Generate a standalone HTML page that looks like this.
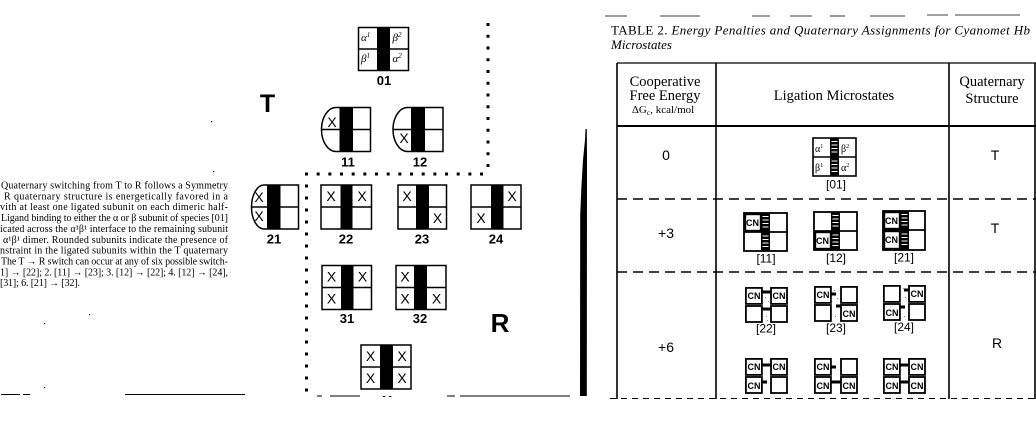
<!DOCTYPE html>
<html><head><meta charset="utf-8">
<style>
html,body{margin:0;padding:0;background:#fff;}
svg{display:block;}
</style></head>
<body>
<svg width="1036" height="435" viewBox="0 0 1036 435" xmlns="http://www.w3.org/2000/svg">
<defs>
<clipPath id="cb"><rect x="0" y="0" width="1036" height="397"/></clipPath>
</defs>
<rect width="1036" height="435" fill="#fff"/>

<!-- Left caption paragraph -->
<g font-family="Liberation Serif, serif" font-size="10" fill="#000">
<text x="1" y="188.5" textLength="227" lengthAdjust="spacing">Quaternary switching from T to R follows a Symmetry</text>
<text x="4" y="199.4" textLength="224" lengthAdjust="spacing">R quaternary structure is energetically favored in a</text>
<text x="0" y="210.2" textLength="228" lengthAdjust="spacing">vith at least one ligated subunit on each dimeric half-</text>
<text x="1" y="221.1" textLength="227" lengthAdjust="spacing">Ligand binding to either the α or β subunit of species [01]</text>
<text x="0" y="231.9" textLength="228" lengthAdjust="spacing">icated across the α¹β¹ interface to the remaining subunit</text>
<text x="3" y="242.8" textLength="225" lengthAdjust="spacing">α¹β¹ dimer. Rounded subunits indicate the presence of</text>
<text x="0" y="253.6" textLength="228" lengthAdjust="spacing">nstraint in the ligated subunits within the T quaternary</text>
<text x="1" y="264.5" textLength="227" lengthAdjust="spacing">The T → R switch can occur at any of six possible switch-</text>
<text x="0" y="275.3" textLength="228" lengthAdjust="spacing">1] → [22]; 2. [11] → [23]; 3. [12] → [22]; 4. [12] → [24],</text>
<text x="0" y="286.2" textLength="80" lengthAdjust="spacing">[31]; 6. [21] → [32].</text>
</g>
<!-- bottom-left fragments -->
<g stroke="#000" stroke-width="1">
<line x1="1" y1="394.5" x2="20" y2="394.5"/>
<line x1="23" y1="394.5" x2="30" y2="394.5"/>
<line x1="125" y1="394.5" x2="245" y2="394.5"/>
</g>
<rect x="44" y="387" width="1.2" height="1.2" fill="#000"/>
<rect x="89" y="314" width="1.2" height="1.2" fill="#000"/>
<rect x="44" y="323" width="1.2" height="1.2" fill="#000"/>
<rect x="211" y="121" width="1.2" height="1.2" fill="#000"/>
<rect x="213" y="171" width="1.2" height="1.2" fill="#000"/>

<!-- T and R letters -->
<text x="267.5" y="112" font-family="Liberation Sans, sans-serif" font-weight="bold" font-size="25" text-anchor="middle">T</text>
<text x="500" y="332" font-family="Liberation Sans, sans-serif" font-weight="bold" font-size="26" text-anchor="middle">R</text>

<!-- dotted boundary -->
<g stroke="#000" stroke-width="3" fill="none">
<line x1="488" y1="23" x2="488" y2="167" stroke-dasharray="3 8.75"/>
<line x1="305" y1="174" x2="484" y2="174" stroke-dasharray="3 8.67"/>
<line x1="306.5" y1="172.5" x2="306.5" y2="393" stroke-dasharray="3 9"/>
</g>

<!-- Box 01 -->
<g stroke="#000" stroke-width="1.5" fill="none">
<rect x="358.5" y="27.5" width="50" height="43" fill="#fff"/>
<line x1="358.5" y1="49" x2="408.5" y2="49"/>
</g>
<rect x="377" y="27.5" width="13" height="43" fill="#000"/>
<g font-family="Liberation Serif, serif" font-style="italic" font-size="11" fill="#000">
<text x="361" y="41">α<tspan font-size="7" dy="-4">1</tspan></text>
<text x="392.5" y="41">β<tspan font-size="7" dy="-4">2</tspan></text>
<text x="361" y="62">β<tspan font-size="7" dy="-4">1</tspan></text>
<text x="392.5" y="62">α<tspan font-size="7" dy="-4">2</tspan></text>
</g>

<!-- Box 11 -->
<g stroke="#000" stroke-width="1.5">
<path d="M370.5,107.5 H336 A14.5,22 0 0 0 321.5,129.5 A14.5,22 0 0 0 336,151.5 H370.5 Z" fill="#fff"/>
<line x1="321.5" y1="129.5" x2="370.5" y2="129.5"/>
</g>
<rect x="339.5" y="107.5" width="13.5" height="44" fill="#000"/>

<!-- Box 12 -->
<g stroke="#000" stroke-width="1.5">
<path d="M443,107.5 H407.5 A14.5,22 0 0 0 393,129.5 A14.5,22 0 0 0 407.5,151.5 H443 Z" fill="#fff"/>
<line x1="393" y1="129.5" x2="443" y2="129.5"/>
</g>
<rect x="411" y="107.5" width="14" height="44" fill="#000"/>

<!-- Box 21 -->
<g stroke="#000" stroke-width="1.5">
<path d="M298.5,185 H264 A12.5,22 0 0 0 251.5,207 A12.5,22 0 0 0 264,229 H298.5 Z" fill="#fff"/>
<line x1="251.5" y1="207" x2="298.5" y2="207"/>
</g>
<rect x="267" y="185" width="13.5" height="44" fill="#000"/>

<!-- square boxes -->
<g stroke="#000" stroke-width="1.5" fill="#fff">
<rect x="321" y="185" width="50.5" height="44"/>
<rect x="398" y="185" width="48.5" height="44"/>
<rect x="471" y="185" width="50" height="44"/>
<rect x="322" y="265.5" width="49.5" height="44"/>
<rect x="396" y="265.5" width="50" height="44"/>
<rect x="361" y="345" width="50" height="44"/>
</g>
<g stroke="#000" stroke-width="1.5">
<line x1="321" y1="207" x2="371.5" y2="207"/>
<line x1="398" y1="207" x2="446.5" y2="207"/>
<line x1="471" y1="207" x2="521" y2="207"/>
<line x1="322" y1="287.5" x2="371.5" y2="287.5"/>
<line x1="396" y1="287.5" x2="446" y2="287.5"/>
<line x1="361" y1="367" x2="411" y2="367"/>
</g>
<g fill="#000">
<rect x="340.5" y="185" width="12" height="44"/>
<rect x="416" y="185" width="13" height="44"/>
<rect x="491" y="185" width="12.5" height="44"/>
<rect x="341" y="265.5" width="12.5" height="44"/>
<rect x="414" y="265.5" width="13" height="44"/>
<rect x="380" y="345" width="13" height="44"/>
</g>

<!-- X marks -->
<g font-family="Liberation Sans, sans-serif" font-size="14" text-anchor="middle" fill="#000">
<text x="332" y="127">X</text>
<text x="404" y="143">X</text>
<text x="259" y="202">X</text>
<text x="259" y="221">X</text>
<text x="331" y="201">X</text>
<text x="362" y="201">X</text>
<text x="407" y="201">X</text>
<text x="437.5" y="223">X</text>
<text x="512" y="201">X</text>
<text x="481" y="223">X</text>
<text x="331.5" y="281.5">X</text>
<text x="362.5" y="281.5">X</text>
<text x="331.5" y="303.5">X</text>
<text x="405" y="281.5">X</text>
<text x="405" y="303.5">X</text>
<text x="436.5" y="303.5">X</text>
<text x="370.5" y="361">X</text>
<text x="402" y="361">X</text>
<text x="370.5" y="383">X</text>
<text x="402" y="383">X</text>
</g>

<!-- box labels -->
<g font-family="Liberation Sans, sans-serif" font-weight="bold" font-size="13" text-anchor="middle" fill="#000">
<text x="384" y="85">01</text>
<text x="348" y="166.5">11</text>
<text x="420" y="166.5">12</text>
<text x="274" y="243.5">21</text>
<text x="346" y="243.5">22</text>
<text x="422" y="243.5">23</text>
<text x="496" y="243.5">24</text>
<text x="347" y="323">31</text>
<text x="420" y="323">32</text>
<text x="386.5" y="405" clip-path="url(#cb)">41</text>
</g>

<!-- bottom line under diagram -->
<g stroke="#000" stroke-width="1">
<line x1="317" y1="396" x2="322" y2="396"/>
<line x1="330" y1="396" x2="360" y2="396"/>
<line x1="447" y1="396" x2="455" y2="396"/>
<line x1="460" y1="396" x2="570" y2="396"/>
</g>

<!-- thick vertical bar -->
<polygon points="585.5,129 586.8,129 587,160 586.8,396 580,396 580.2,215 581.5,185 583,160 585,140" fill="#000"/>

<!-- TABLE -->
<g stroke="#000" stroke-width="0.8">
<line x1="605" y1="16" x2="627" y2="16"/>
<line x1="660" y1="16" x2="700" y2="16"/>
<line x1="752" y1="16" x2="770" y2="16"/>
<line x1="790" y1="16" x2="812" y2="16"/>
<line x1="830" y1="16" x2="845" y2="16"/>
<line x1="870" y1="16" x2="905" y2="16"/>
<line x1="927" y1="15" x2="948" y2="15"/>
<line x1="955" y1="15" x2="1020" y2="15"/>
</g>
<text x="611" y="34.5" font-family="Liberation Serif, serif" font-size="13" fill="#000" textLength="419" lengthAdjust="spacing">TABLE 2. <tspan font-style="italic">Energy Penalties and Quaternary Assignments for Cyanomet Hb</tspan></text>
<text x="611" y="49" font-family="Liberation Serif, serif" font-size="13" font-style="italic" fill="#000">Microstates</text>

<g stroke="#000" fill="none">
<line x1="617" y1="63" x2="1036" y2="63" stroke-width="1.2"/>
<line x1="617" y1="63" x2="617" y2="399" stroke-width="1.6"/>
<line x1="716" y1="63" x2="716" y2="399" stroke-width="1.6"/>
<line x1="949" y1="63" x2="949" y2="399" stroke-width="1.6"/>
<line x1="1035" y1="63" x2="1035" y2="399" stroke-width="1.6"/>
<line x1="617" y1="126" x2="1036" y2="126" stroke-width="2"/>
<line x1="617" y1="199" x2="1036" y2="199" stroke-width="1.6" stroke-dasharray="10 6"/>
<line x1="617" y1="272" x2="1036" y2="272" stroke-width="1.6" stroke-dasharray="10 6"/>
<line x1="610" y1="398.5" x2="1036" y2="398.5" stroke-width="1" stroke-dasharray="6 5"/>
</g>

<g font-family="Liberation Serif, serif" font-size="14.5" fill="#000" text-anchor="middle">
<text x="665" y="86">Cooperative</text>
<text x="665" y="100">Free Energy</text>
<text x="663" y="113" font-size="11">ΔG<tspan font-size="7.5" dy="2">c</tspan><tspan dy="-2">, kcal/mol</tspan></text>
<text x="834" y="100">Ligation Microstates</text>
<text x="992" y="86">Quaternary</text>
<text x="992" y="103">Structure</text>
</g>

<g font-family="Liberation Sans, sans-serif" font-size="14" fill="#000" text-anchor="middle">
<text x="666" y="160">0</text>
<text x="995" y="160">T</text>
<text x="666" y="238">+3</text>
<text x="995" y="233">T</text>
<text x="666" y="352">+6</text>
<text x="997" y="348">R</text>
</g>

<!-- [01] icon -->
<g transform="translate(813,138)" font-family="Liberation Serif, serif" fill="#000">
<rect x="0" y="0" width="43" height="38" fill="#fff" stroke="#000" stroke-width="1.6"/>
<rect x="17" y="0" width="9" height="38" fill="#000"/>
<path d="M18.5 3.5h6M18.5 7h6M18.5 10.5h6M18.5 14h6M18.5 23h6M18.5 26.5h6M18.5 30h6M18.5 33.5h6" stroke="#fff" stroke-width="1"/>
<line x1="0" y1="19" x2="43" y2="19" stroke="#000" stroke-width="1.6"/>
<text x="2" y="14" font-size="10">α<tspan font-size="6" dy="-4">1</tspan></text>
<text x="28" y="14" font-size="10">β<tspan font-size="6" dy="-4">2</tspan></text>
<text x="2" y="33" font-size="10">β<tspan font-size="6" dy="-4">1</tspan></text>
<text x="28" y="33" font-size="10">α<tspan font-size="6" dy="-4">2</tspan></text>
</g>

<!-- T icons -->
<g font-family="Liberation Sans, sans-serif" font-weight="bold" font-size="9" text-anchor="middle" fill="#000">
<g transform="translate(744,213)">
<rect x="0" y="0" width="43" height="38" fill="#fff" stroke="#000" stroke-width="1.8"/>
<rect x="17" y="0" width="9" height="38" fill="#000"/>
<path d="M18.5 3.5h6M18.5 7h6M18.5 10.5h6M18.5 14h6M18.5 23h6M18.5 26.5h6M18.5 30h6M18.5 33.5h6" stroke="#fff" stroke-width="1"/>
<line x1="0" y1="19" x2="43" y2="19" stroke="#000" stroke-width="1.8"/>
<rect x="1" y="1" width="16" height="17" fill="none" stroke="#000" stroke-width="2.4"/>
<text x="8.5" y="13">CN</text>
</g>
<g transform="translate(814,212)">
<rect x="0" y="0" width="43" height="38" fill="#fff" stroke="#000" stroke-width="1.8"/>
<rect x="17" y="0" width="9" height="38" fill="#000"/>
<path d="M18.5 3.5h6M18.5 7h6M18.5 10.5h6M18.5 14h6M18.5 23h6M18.5 26.5h6M18.5 30h6M18.5 33.5h6" stroke="#fff" stroke-width="1"/>
<line x1="0" y1="19" x2="43" y2="19" stroke="#000" stroke-width="1.8"/>
<rect x="1" y="20" width="16" height="17" fill="none" stroke="#000" stroke-width="2.4"/>
<text x="8.5" y="32">CN</text>
</g>
<g transform="translate(883,211)">
<rect x="0" y="0" width="42" height="39" fill="#fff" stroke="#000" stroke-width="1.8"/>
<rect x="17" y="0" width="9" height="39" fill="#000"/>
<path d="M18.5 3.5h6M18.5 7h6M18.5 10.5h6M18.5 14h6M18.5 23h6M18.5 26.5h6M18.5 30h6M18.5 33.5h6" stroke="#fff" stroke-width="1"/>
<line x1="0" y1="19" x2="42" y2="19" stroke="#000" stroke-width="1.8"/>
<rect x="1" y="1" width="16" height="17" fill="none" stroke="#000" stroke-width="2.4"/>
<text x="8.5" y="13">CN</text>
<rect x="1" y="20" width="16" height="18" fill="none" stroke="#000" stroke-width="2.4"/>
<text x="8.5" y="32">CN</text>
</g>
</g>

<!-- R icons -->
<g font-family="Liberation Sans, sans-serif" font-weight="bold" font-size="9" text-anchor="middle" fill="#000" stroke-linecap="butt">
<!-- [22] -->
<g transform="translate(745,287)">
<g fill="#fff" stroke="#000" stroke-width="1.8">
<rect x="0.9" y="0.9" width="16" height="16"/><rect x="0.9" y="19" width="16" height="16"/>
<rect x="26" y="0.9" width="16" height="16"/><rect x="26" y="19" width="16" height="16"/>
</g>
<g fill="#888"><rect x="20" y="10" width="1" height="1"/><rect x="23" y="14" width="1" height="1"/><rect x="21" y="29" width="1" height="1"/><rect x="22" y="33" width="1" height="1"/></g>
<line x1="17" y1="5" x2="26" y2="5" stroke="#000" stroke-width="3"/>
<line x1="17" y1="22" x2="26" y2="22" stroke="#000" stroke-width="3"/>
<text x="9" y="12">CN</text><text x="34" y="12">CN</text>
</g>
<!-- [23] -->
<g transform="translate(814,286)">
<g fill="#fff" stroke="#000" stroke-width="1.8">
<rect x="0.9" y="0.9" width="16" height="16"/><rect x="0.9" y="19" width="16" height="16"/>
<rect x="27" y="0.9" width="16" height="16"/><rect x="27" y="19" width="16" height="16"/>
</g>
<g fill="#888"><rect x="20" y="4" width="1" height="1"/><rect x="23" y="12" width="1" height="1"/><rect x="21" y="30" width="1" height="1"/></g>
<line x1="17" y1="8" x2="22" y2="8" stroke="#000" stroke-width="3"/>
<line x1="22" y1="20" x2="27" y2="20" stroke="#000" stroke-width="3"/>
<text x="9" y="12">CN</text><text x="35" y="31">CN</text>
</g>
<!-- [24] -->
<g transform="translate(883,285)">
<g fill="#fff" stroke="#000" stroke-width="1.8">
<rect x="0.9" y="0.9" width="16" height="16"/><rect x="0.9" y="19" width="16" height="16"/>
<rect x="26" y="0.9" width="16" height="16"/><rect x="26" y="19" width="16" height="16"/>
</g>
<g fill="#888"><rect x="20" y="3" width="1" height="1"/><rect x="22" y="12" width="1" height="1"/><rect x="21" y="31" width="1" height="1"/></g>
<line x1="21" y1="5" x2="26" y2="5" stroke="#000" stroke-width="3"/>
<line x1="17" y1="22" x2="22" y2="22" stroke="#000" stroke-width="3"/>
<text x="34" y="12">CN</text><text x="9" y="31">CN</text>
</g>
<g clip-path="url(#cb)">
<!-- [31] -->
<g transform="translate(745,358)">
<g fill="#fff" stroke="#000" stroke-width="1.8">
<rect x="0.9" y="0.9" width="16" height="16"/><rect x="0.9" y="19" width="16" height="16"/>
<rect x="26" y="0.9" width="16" height="16"/><rect x="26" y="19" width="16" height="16"/>
</g>
<line x1="17" y1="7" x2="26" y2="7" stroke="#000" stroke-width="3"/>
<line x1="17" y1="24" x2="22" y2="24" stroke="#000" stroke-width="3"/>
<text x="9" y="12">CN</text><text x="34" y="12">CN</text><text x="9" y="31">CN</text>
</g>
<!-- [32] -->
<g transform="translate(814,358)">
<g fill="#fff" stroke="#000" stroke-width="1.8">
<rect x="0.9" y="0.9" width="16" height="16"/><rect x="0.9" y="19" width="16" height="16"/>
<rect x="27" y="0.9" width="16" height="16"/><rect x="27" y="19" width="16" height="16"/>
</g>
<line x1="17" y1="9" x2="22" y2="9" stroke="#000" stroke-width="3"/>
<line x1="17" y1="24" x2="27" y2="24" stroke="#000" stroke-width="3"/>
<text x="9" y="12">CN</text><text x="9" y="31">CN</text><text x="35" y="31">CN</text>
</g>
<!-- [41] -->
<g transform="translate(883,358)">
<g fill="#fff" stroke="#000" stroke-width="1.8">
<rect x="0.9" y="0.9" width="16" height="16"/><rect x="0.9" y="19" width="16" height="16"/>
<rect x="26" y="0.9" width="16" height="16"/><rect x="26" y="19" width="16" height="16"/>
</g>
<line x1="17" y1="7" x2="26" y2="7" stroke="#000" stroke-width="3"/>
<line x1="17" y1="24" x2="26" y2="24" stroke="#000" stroke-width="3"/>
<text x="9" y="12">CN</text><text x="34" y="12">CN</text><text x="9" y="31">CN</text><text x="34" y="31">CN</text>
</g>
</g>
</g>

<!-- microstate labels -->
<g font-family="Liberation Sans, sans-serif" font-size="12" text-anchor="middle" fill="#000">
<text x="836" y="188.5">[01]</text>
<text x="766" y="262.5">[11]</text>
<text x="836" y="262">[12]</text>
<text x="904" y="261.5">[21]</text>
<text x="766" y="332.5">[22]</text>
<text x="836" y="332">[23]</text>
<text x="904" y="331">[24]</text>
</g>
</svg>
</body></html>
